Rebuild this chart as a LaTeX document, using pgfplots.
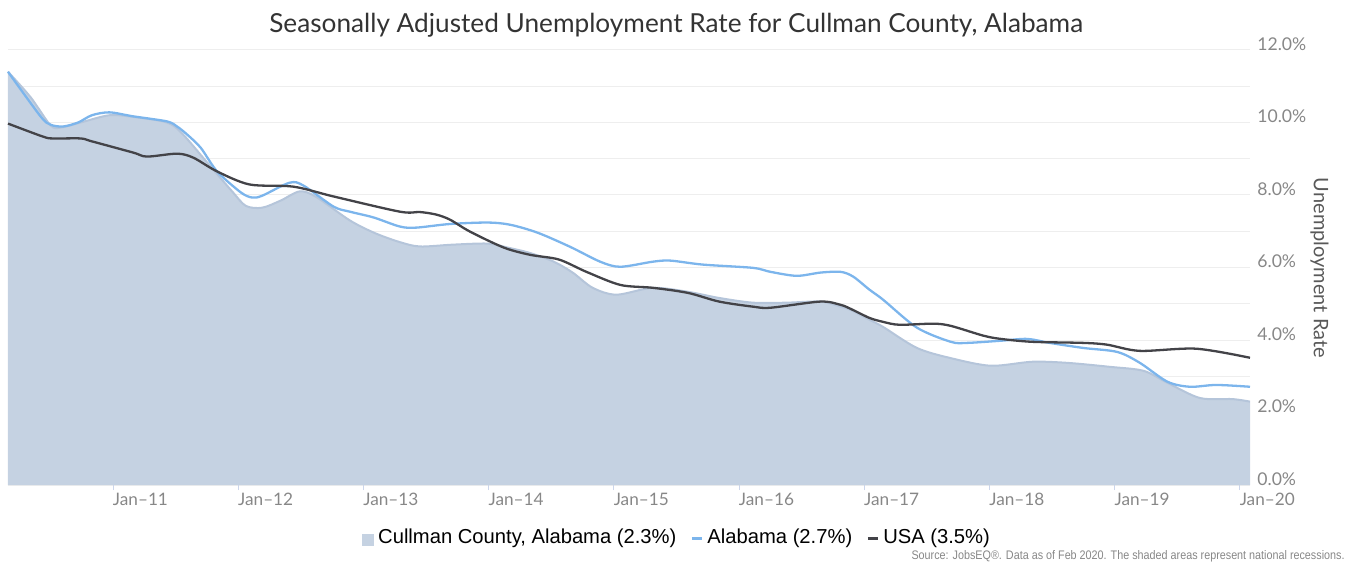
\documentclass[border=0pt]{standalone}
\usepackage{fontspec}
\setmainfont{Lato}
\newfontfamily\legfont{Liberation Sans}
\usepackage{pgfplots}
\usepackage{pgfplotstable}
\pgfplotsset{compat=1.18}
\definecolor{cullfill}{RGB}{197,210,226}
\definecolor{culledge}{RGB}{181,197,218}
\definecolor{alblue}{RGB}{124,181,236}
\definecolor{usablack}{RGB}{67,67,72}
\definecolor{gridc}{RGB}{238,238,238}
\definecolor{tickc}{RGB}{204,214,235}
\definecolor{labc}{RGB}{135,135,135}
\pgfplotstableread{
x y
0.16 11.4
0.34 10.7
0.50 9.92
0.58 9.86
0.74 10.0
0.97 10.2
1.17 10.15
1.43 10.0
1.55 9.7
1.75 8.9
1.95 8.1
2.06 7.7
2.19 7.65
2.34 7.85
2.49 8.1
2.62 7.95
2.89 7.3
3.09 6.95
3.29 6.7
3.45 6.58
3.71 6.63
3.99 6.66
4.15 6.55
4.33 6.4
4.52 6.16
4.67 5.86
4.83 5.44
5.02 5.25
5.31 5.44
5.59 5.33
5.84 5.16
6.11 5.03
6.38 5.03
6.65 5.06
6.81 4.92
6.89 4.83
7.04 4.56
7.15 4.36
7.42 3.78
7.69 3.5
8.01 3.29
8.34 3.4
8.62 3.37
8.96 3.26
9.23 3.15
9.42 2.82
9.68 2.4
9.94 2.37
10.08 2.3
}\cullman
\pgfplotstableread{
x y
0.16 11.4
0.42 10.17
0.50 9.94
0.60 9.89
0.72 10.0
0.83 10.2
0.97 10.28
1.16 10.17
1.43 10.03
1.51 9.89
1.59 9.67
1.70 9.3
1.83 8.65
2.02 8.07
2.11 7.93
2.19 7.98
2.41 8.34
2.52 8.26
2.76 7.68
2.89 7.54
3.08 7.38
3.29 7.13
3.42 7.1
3.69 7.2
3.99 7.24
4.17 7.18
4.39 6.96
4.65 6.57
4.89 6.16
5.05 6.02
5.31 6.16
5.45 6.19
5.71 6.08
6.11 5.99
6.25 5.88
6.46 5.77
6.65 5.86
6.81 5.88
6.91 5.75
7.04 5.39
7.15 5.11
7.42 4.34
7.69 3.95
7.82 3.92
8.09 3.98
8.30 4.03
8.48 3.92
8.75 3.78
9.02 3.67
9.20 3.37
9.42 2.85
9.60 2.71
9.81 2.76
10.08 2.71
}\alabama
\pgfplotstableread{
x y
0.16 9.97
0.44 9.61
0.52 9.56
0.74 9.56
0.83 9.48
1.16 9.17
1.27 9.06
1.51 9.14
1.64 9.03
1.83 8.65
2.09 8.29
2.44 8.23
2.76 7.96
3.29 7.54
3.45 7.53
3.58 7.46
3.69 7.32
3.85 6.99
4.12 6.55
4.33 6.35
4.56 6.22
4.78 5.88
5.05 5.52
5.31 5.44
5.59 5.3
5.84 5.06
6.11 4.92
6.25 4.89
6.65 5.06
6.81 4.97
6.89 4.86
7.04 4.61
7.15 4.5
7.28 4.42
7.55 4.45
7.69 4.39
7.95 4.12
8.09 4.03
8.34 3.95
8.75 3.92
8.94 3.87
9.20 3.7
9.65 3.76
10.08 3.51
}\usa
\begin{document}
\begin{tikzpicture}
\begin{axis}[
  at={(4pt,39pt)}, anchor=south west,
  scale only axis, width=621pt, height=217.5pt,
  xmin=0.16, xmax=10.08, ymin=0, ymax=12,
  axis line style={draw=none},
  xtick={1,2,3,4,5,6,7,8,9,10},
  xticklabels={Jan–11,Jan–12,Jan–13,Jan–14,Jan–15,Jan–16,Jan–17,Jan–18,Jan–19,Jan–20},
  xtick align=outside, xtick pos=bottom,
  major tick length=2.5pt,
  x tick style={color=tickc, line width=0.5pt},
  ytick={0,2,4,6,8,10,12},
  minor ytick={1,3,5,7,9,11},
  y tick style={draw=none},
  ymajorgrids, yminorgrids,
  major grid style={color=gridc, line width=0.5pt},
  minor grid style={color=gridc, line width=0.5pt},
  yticklabel pos=right,
  /pgf/number format/assume math mode=true,
  yticklabel={\pgfmathprintnumber[fixed,fixed zerofill,precision=1]{\tick}\%},
  yticklabel style={anchor=west, inner sep=0pt, xshift=3.5pt, yshift=3pt, font=\fontsize{8.8}{10}\selectfont, text=labc},
  xticklabel style={anchor=north west, inner sep=0pt, xshift=-0.3pt, yshift=-1.5pt, font=\fontsize{8.6}{10}\selectfont, text=labc},
  legend style={at={(axis description cs:0.5395,-0.122)}, anchor=center, draw=none, fill=none,
    legend columns=3, font=\legfont\fontsize{10.1}{12}\selectfont,
    /tikz/every even column/.append style={column sep=5pt}},
  legend cell align=left,
  clip=false,
]
\addplot[fill=cullfill, draw=none, smooth, tension=0.5, forget plot] table {\cullman} \closedcycle;
\addplot[color=culledge, line width=1pt, smooth, tension=0.5,
  legend image code/.code={\fill[cullfill] (0pt,-3.5pt) rectangle (5pt,1.5pt);}] table {\cullman};
\addlegendentry{Cullman County, Alabama (2.3\%)}
\addplot[color=alblue, line width=1.15pt, smooth, tension=0.5,
  legend image code/.code={\draw[alblue, line width=1.5pt] (0pt,0pt) -- (5pt,0pt);}] table {\alabama};
\addlegendentry{Alabama (2.7\%)}
\addplot[color=usablack, line width=1.15pt, smooth, tension=0.5,
  legend image code/.code={\draw[usablack, line width=1.5pt] (0pt,0pt) -- (5pt,0pt);}] table {\usa};
\addlegendentry{USA (3.5\%)}
\node[rotate=-90, font=\fontsize{10}{11}\selectfont, text=black!65] at (axis description cs:1.056,0.499) {Unemployment Rate};
\node[font=\fontsize{13.1}{15}\selectfont, text=black!80] at (axis description cs:0.538,1.057) {Seasonally Adjusted Unemployment Rate for Cullman County, Alabama};
\node[anchor=east, font=\legfont\fontsize{6.2}{7}\selectfont, text=labc, inner sep=0pt] at (axis description cs:1.0765,-0.163) {\scalebox{0.87}[1]{Source: JobsEQ\textregistered. Data as of Feb 2020. The shaded areas represent national recessions.}};
\end{axis}
\pgfresetboundingbox
\useasboundingbox (0,0) rectangle (678pt,281.5pt);
\end{tikzpicture}
\end{document}
